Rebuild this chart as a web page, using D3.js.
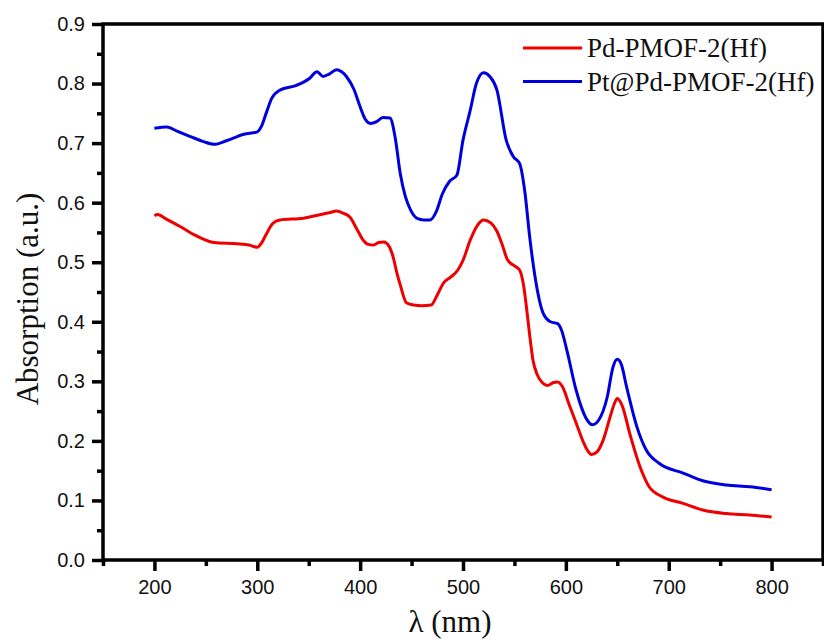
<!doctype html>
<html lang="en">
    <head>
        <meta charset="utf-8">
        <title>Absorption spectra</title>
        <style>
            body { margin: 0; background: #fff; }
            .tick-label { font-family: "Liberation Sans", Arial, sans-serif; font-size: 20px; fill: #111; }
            .title { font-family: "Liberation Serif", "Times New Roman", serif; font-size: 31px; fill: #111; }
            .legend { font-family: "Liberation Serif", "Times New Roman", serif; font-size: 27px; fill: #111; }
        </style>
    </head>
    <body>
        <svg></svg>
        <script src="https://d3js.org/d3.v7.min.js"></script>
        <script>
            //Series data (wavelength in nm, absorption in a.u.)
            var redName = "Pd-PMOF-2(Hf)";
            var redX = [200, 203, 212, 225, 240, 258, 280, 292, 300, 304, 309, 315, 322, 345, 364, 370, 377, 384, 390, 397,
                        403, 408, 413, 418, 423, 428, 432, 436, 439, 445, 452, 460, 469, 475, 481, 488, 495, 500, 507, 514,
                        520, 527, 533, 538, 543, 549, 555, 559, 562, 565, 568, 572, 577, 582, 588, 592, 597, 603, 610, 617,
                        621, 625, 630, 636, 643, 647, 650, 655, 662, 672, 681, 694, 714, 733, 756, 779, 800];
            var redY = [0.578, 0.580, 0.572, 0.560, 0.545, 0.533, 0.531, 0.529, 0.525, 0.532, 0.548, 0.565, 0.571, 0.574, 0.581, 0.583, 0.586, 0.582, 0.576, 0.555,
                        0.537, 0.530, 0.529, 0.533, 0.534, 0.527, 0.509, 0.480, 0.462, 0.432, 0.428, 0.427, 0.428, 0.445, 0.465, 0.475, 0.487, 0.503, 0.537, 0.562,
                        0.571, 0.566, 0.552, 0.530, 0.505, 0.495, 0.487, 0.460, 0.420, 0.375, 0.336, 0.312, 0.298, 0.293, 0.298, 0.299, 0.290, 0.262, 0.230, 0.198,
                        0.184, 0.177, 0.181, 0.200, 0.240, 0.262, 0.271, 0.258, 0.213, 0.157, 0.123, 0.106, 0.095, 0.084, 0.078, 0.0756, 0.072];

            var blueName = "Pt@Pd-PMOF-2(Hf)";
            var blueX = [200, 212, 222, 235, 247, 258, 270, 287, 300, 304, 309, 314, 322, 338, 351, 358, 364, 370, 377, 387, 394,
                         400, 405, 410, 416, 422, 429, 434, 439, 444, 449, 455, 462, 468, 474, 480, 487, 494, 500, 507, 513,
                         520, 526, 533, 542, 549, 555, 560, 565, 570, 578, 585, 592, 596, 601, 610, 620, 626, 632, 640, 646,
                         650, 654, 659, 669, 678, 691, 714, 733, 756, 779, 800];
            var blueY = [0.725, 0.727, 0.720, 0.711, 0.703, 0.698, 0.704, 0.715, 0.719, 0.728, 0.752, 0.775, 0.789, 0.797, 0.809, 0.820, 0.812, 0.816, 0.823, 0.811, 0.790,
                         0.761, 0.740, 0.733, 0.736, 0.743, 0.742, 0.710, 0.649, 0.610, 0.588, 0.574, 0.571, 0.571, 0.585, 0.615, 0.636, 0.646, 0.705, 0.755, 0.800,
                         0.818, 0.812, 0.789, 0.705, 0.677, 0.666, 0.620, 0.540, 0.476, 0.414, 0.400, 0.397, 0.385, 0.352, 0.285, 0.237, 0.227, 0.235, 0.272, 0.325,
                         0.337, 0.328, 0.291, 0.224, 0.185, 0.162, 0.146, 0.133, 0.126, 0.123, 0.118];

            //Tick values
            var xMajor = [200, 300, 400, 500, 600, 700, 800];
            var xMinor = [150, 250, 350, 450, 550, 650, 750, 850];
            var yMajor = [0.0, 0.1, 0.2, 0.3, 0.4, 0.5, 0.6, 0.7, 0.8, 0.9];
            var yMinor = [0.05, 0.15, 0.25, 0.35, 0.45, 0.55, 0.65, 0.75, 0.85];

            //Main container size and plot frame
            var svgWidth = 824;
            var svgHeight = 644;
            var plotLeft = 103, plotRight = 823, plotTop = 24, plotBottom = 560;

            var svg = d3.select("svg")
                .attr("width", svgWidth)
                .attr("height", svgHeight);

            var x = d3.scaleLinear().domain([150, 850]).range([plotLeft, plotRight]);
            var y = d3.scaleLinear().domain([0, 0.9]).range([plotBottom, plotTop]);

            //Spectra
            var line = d3.line()
                .x(function(d) { return x(d[0]); })
                .y(function(d) { return y(d[1]); })
                .curve(d3.curveMonotoneX);

            var series = [
                { name: redName, color: "#ee0000", pts: d3.zip(redX, redY) },
                { name: blueName, color: "#0000dd", pts: d3.zip(blueX, blueY) }
            ];

            svg.selectAll("path.spectrum")
                .data(series)
                .enter()
                .append("path")
                .attr("class", "spectrum")
                .attr("fill", "none")
                .attr("stroke", function(d) { return d.color; })
                .attr("stroke-width", 3)
                .attr("stroke-linejoin", "round")
                .attr("d", function(d) { return line(d.pts); });

            //Axes: major and minor ticks pointing outwards
            function styleAxis(g) {
                g.select(".domain").remove();
                g.selectAll("line").attr("stroke", "#000").attr("stroke-width", 3.5);
            }

            svg.append("g")
                .attr("transform", "translate(0," + plotBottom + ")")
                .call(d3.axisBottom(x).tickValues(xMinor).tickSize(6).tickFormat(""))
                .call(styleAxis);
            svg.append("g")
                .attr("transform", "translate(0," + plotBottom + ")")
                .call(d3.axisBottom(x).tickValues(xMajor).tickSize(11).tickPadding(9).tickFormat(d3.format("d")))
                .call(styleAxis)
                .selectAll("text")
                .attr("class", "tick-label")
                .attr("fill", null);

            svg.append("g")
                .attr("transform", "translate(" + plotLeft + ",0)")
                .call(d3.axisLeft(y).tickValues(yMinor).tickSize(6).tickFormat(""))
                .call(styleAxis);
            svg.append("g")
                .attr("transform", "translate(" + plotLeft + ",0)")
                .call(d3.axisLeft(y).tickValues(yMajor).tickSize(11).tickPadding(7).tickFormat(d3.format(".1f")))
                .call(styleAxis)
                .selectAll("text")
                .attr("class", "tick-label")
                .attr("fill", null);

            //Frame around the plot
            svg.append("rect")
                .attr("x", plotLeft)
                .attr("y", plotTop)
                .attr("width", plotRight - plotLeft)
                .attr("height", plotBottom - plotTop)
                .attr("fill", "none")
                .attr("stroke", "#000")
                .attr("stroke-width", 3.5);

            //Axis titles
            svg.append("text")
                .attr("class", "title")
                .attr("text-anchor", "middle")
                .attr("x", 450)
                .attr("y", 632)
                .text("\u03bb (nm)");

            svg.append("text")
                .attr("class", "title")
                .attr("text-anchor", "middle")
                .attr("transform", "translate(38,299) rotate(-90)")
                .text("Absorption (a.u.)");

            //Legend
            var legend = svg.selectAll("g.legend-item")
                .data(series)
                .enter()
                .append("g")
                .attr("class", "legend-item")
                .attr("transform", function(d, i) { return "translate(523," + (48 + i * 33.5) + ")"; });

            legend.append("line")
                .attr("x1", 0)
                .attr("x2", 59)
                .attr("stroke", function(d) { return d.color; })
                .attr("stroke-width", 3);

            legend.append("text")
                .attr("class", "legend")
                .attr("x", 64)
                .attr("y", 9)
                .text(function(d) { return d.name; });
        </script>
    </body>
</html>
